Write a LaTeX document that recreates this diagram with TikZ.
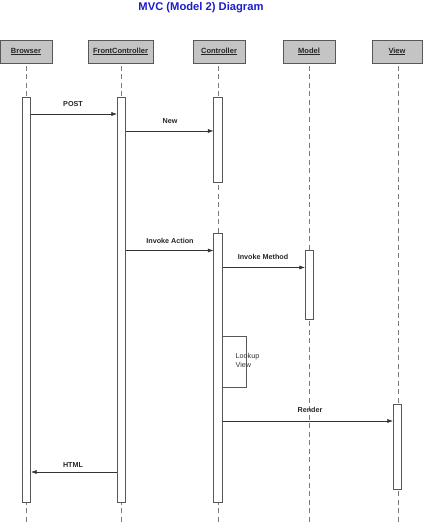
\documentclass[tikz,border=0pt]{standalone}
\usepackage{fontspec}
\setmainfont{Liberation Sans}
\usetikzlibrary{arrows.meta}
\definecolor{boxfill}{HTML}{C4C4C4}
\definecolor{edge}{HTML}{585858}
\definecolor{shadowc}{HTML}{606060}
\definecolor{lifec}{HTML}{7A7A7A}
\definecolor{titleblue}{HTML}{1C1CC8}
\tikzset{
  head/.style={draw=edge, fill=boxfill, minimum width=52pt, minimum height=23pt, inner sep=0pt,
    font=\bfseries\fontsize{7.5}{9}\selectfont, text=black!85, line width=0.6pt},
  life/.style={draw=lifec, dash pattern=on 5pt off 3.5pt, line width=0.7pt},
  bar/.style={draw=edge, fill=white, minimum width=8.5pt, inner sep=0pt, line width=0.6pt},
  msg/.style={draw=black!80, line width=0.55pt, -{Latex[length=5.5pt,width=4pt]}},
  lbl/.style={font=\bfseries\fontsize{7.2}{8}\selectfont, text=black!85},
  ttl/.style={font=\bfseries\fontsize{11.2}{13}\selectfont, text=titleblue},
}
\begin{document}
\begin{tikzpicture}[x=1pt,y=-1pt]
\useasboundingbox (0,0) rectangle (424,524);
\node[ttl] (title) at (201,8) {MVC (Model 2) Diagram};
% header shadows
\foreach \cx/\w in {26/52, 120.5/65, 219/52, 309/52, 397/50}{
  \fill[shadowc] (\cx-\w/2+1.3,41.3) rectangle (\cx+\w/2+1.3,64.3);
}
\node[head, minimum width=52pt] (hB) at (26,51.5) {\underline{Browser}};
\node[head, minimum width=65pt] (hF) at (120.5,51.5) {\underline{FrontController}};
\node[head, minimum width=52pt] (hC) at (219,51.5) {\underline{Controller}};
\node[head, minimum width=52pt] (hM) at (309,51.5) {\underline{Model}};
\node[head, minimum width=50pt] (hV) at (397,51.5) {\underline{View}};
% lifelines
\coordinate (eB) at (26,524);
\coordinate (eF) at (121,524);
\coordinate (eC) at (218,524);
\coordinate (eM) at (309,524);
\coordinate (eV) at (398,524);
\draw[life] (26,66) -- (eB);
\draw[life] (121,66) -- (eF);
\draw[life] (218,66) -- (eC);
\draw[life] (309,66) -- (eM);
\draw[life] (398,66) -- (eV);
% activation bars
\node[bar, minimum height=405pt] (bB) at (26.5,299.5) {};
\node[bar, minimum height=405pt] (bF) at (121.5,299.5) {};
\node[bar, minimum height=85pt] (bC1) at (218,139.5) {};
\node[bar, minimum height=269pt] (bC2) at (218,367.5) {};
\node[bar, minimum height=69pt] (bM) at (309.5,284.5) {};
\node[bar, minimum height=85pt] (bV) at (397.5,446.5) {};
% messages
\draw[msg] (bB.east |- 0,114) -- (bF.west |- 0,114);
\node[lbl] (lPost) at (73,104) {POST};
\draw[msg] (bF.east |- 0,131) -- (bC1.west |- 0,131);
\node[lbl] (lNew) at (170,121) {New};
\draw[msg] (bF.east |- 0,250.5) -- (bC2.west |- 0,250.5);
\node[lbl] (lIA) at (170,240.5) {Invoke Action};
\draw[msg] (bC2.east |- 0,267.5) -- (bM.west |- 0,267.5);
\node[lbl] (lIM) at (263,257) {Invoke Method};
\draw[draw=edge, line width=0.6pt] (bC2.east |- 0,336) -- (246,336) -- (246,387) -- (bC2.east |- 0,387);
\node[font=\fontsize{7.2}{9}\selectfont, align=left, anchor=north west, inner sep=0pt, text=black!80] (lLV) at (235.5,353.5) {Lookup\\View};
\draw[msg] (bC2.east |- 0,421) -- (bV.west |- 0,421);
\node[lbl] (lR) at (310,410) {Render};
\draw[msg] (bF.west |- 0,472) -- (bB.east |- 0,472);
\node[lbl] (lH) at (73,465) {HTML};
\end{tikzpicture}
\end{document}
